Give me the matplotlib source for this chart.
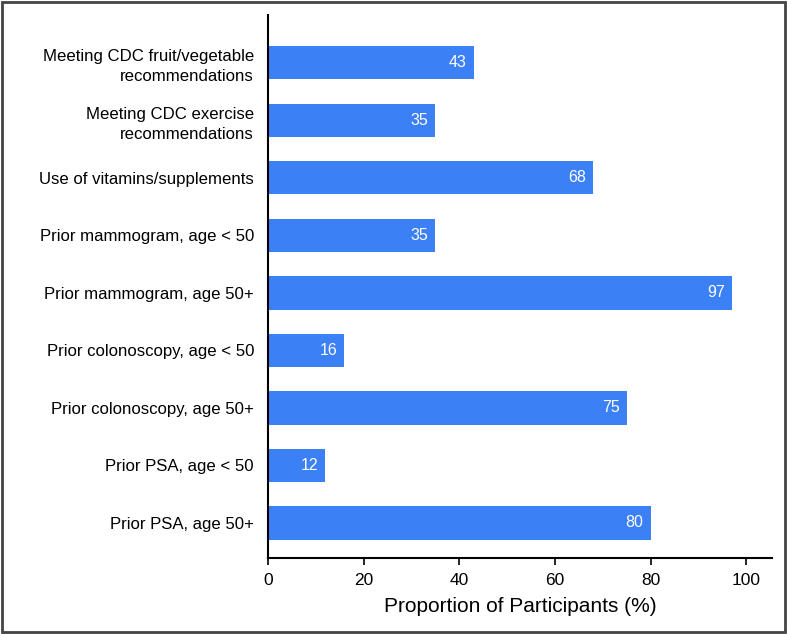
import matplotlib.pyplot as plt
from matplotlib.patches import Rectangle

plt.rcParams['font.family'] = ['Liberation Sans', 'DejaVu Sans']

categories = [
    "Meeting CDC fruit/vegetable\nrecommendations",
    "Meeting CDC exercise\nrecommendations",
    "Use of vitamins/supplements",
    "Prior mammogram, age < 50",
    "Prior mammogram, age 50+",
    "Prior colonoscopy, age < 50",
    "Prior colonoscopy, age 50+",
    "Prior PSA, age < 50",
    "Prior PSA, age 50+",
]
values = [43, 35, 68, 35, 97, 16, 75, 12, 80]
xticks = [0, 20, 40, 60, 80, 100]

bar_color = "#3c80f6"

fig = plt.figure(figsize=(7.87, 6.34), dpi=100)
ax = fig.add_axes([0.3405, 0.1199, 0.981 - 0.3405, 0.9763 - 0.1199])

n = len(categories)
ypos = list(range(n - 1, -1, -1))
ax.barh(ypos, values, height=0.58, color=bar_color)

for y, v in zip(ypos, values):
    ax.text(v - 1.5, y, str(v), ha="right", va="center",
            color="white", fontsize=11.5)

ax.set_yticks(ypos)
ax.set_yticklabels(categories, fontsize=12.1, linespacing=1.4)
ax.tick_params(axis="y", length=0, pad=10)

ax.set_xticks(xticks)
ax.set_xticklabels([str(t) for t in xticks], fontsize=12.5)
ax.tick_params(axis="x", length=5, width=1.2, pad=6)

ax.set_xlim(0, 105.4)
ax.set_ylim(-0.61, n - 1 + 0.83)

for s in ["top", "right"]:
    ax.spines[s].set_visible(False)
for s in ["left", "bottom"]:
    ax.spines[s].set_linewidth(1.5)

ax.set_xlabel("Proportion of Participants (%)", fontsize=15, labelpad=6)

# outer frame around the whole figure
fig.patches.append(Rectangle((0.002, 0.003), 0.996, 0.994, transform=fig.transFigure,
                             fill=False, edgecolor="#444444", linewidth=2))

fig.savefig("out.png", dpi=100)
